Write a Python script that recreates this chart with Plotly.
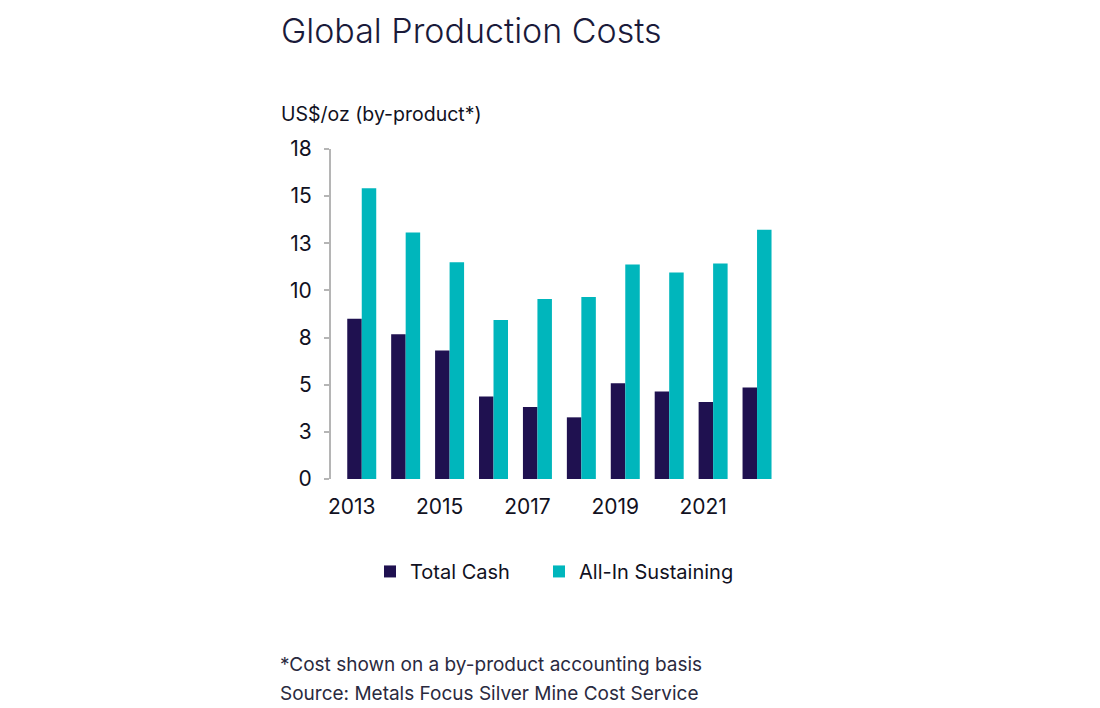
import plotly.graph_objects as go

years = ["2013", "2014", "2015", "2016", "2017", "2018", "2019", "2020", "2021", "2022"]
total_cash = [8.50, 7.67, 6.81, 4.38, 3.82, 3.27, 5.08, 4.64, 4.08, 4.85]
all_in_sustaining = [15.42, 13.07, 11.50, 8.43, 9.54, 9.65, 11.37, 10.95, 11.43, 13.22]
y_tickvals = [0, 2.5, 5, 7.5, 10, 12.5, 15, 17.5]
y_ticktext = ["0", "3", "5", "8", "10", "13", "15", "18"]
x_tickvals = ["2013", "2015", "2017", "2019", "2021"]

FONT = "Inter"
TXT = "#111122"
C_TC = "#1f1150"
C_AISC = "#00b6bc"

OFF = 8  # page body margin
W, H = 1100 - OFF, 708 - OFF
# plot area in screen pixels
SX0, SX1, SY0, SY1 = 331, 779, 149.3, 479.5
L, R = SX0 - OFF, (W + OFF) - SX1
T, B = SY0 - OFF, (H + OFF) - SY1
pw = SX1 - SX0
ph = SY1 - SY0


def px_x(x):
    return (x - SX0) / pw


def px_y(y):
    return (SY1 - y) / ph


fig = go.Figure()
fig.add_trace(go.Bar(x=years, y=total_cash, name="Total Cash", legend="legend",
                     marker=dict(color=C_TC, line=dict(width=0))))
fig.add_trace(go.Bar(x=years, y=all_in_sustaining, name="All-In Sustaining", legend="legend2",
                     marker=dict(color=C_AISC, line=dict(width=0))))

leg_common = dict(orientation="h", xanchor="left", yanchor="middle",
                  font=dict(size=20, color=TXT, family=FONT), itemclick=False,
                  bgcolor="rgba(0,0,0,0)")

fig.update_layout(
    width=W, height=H,
    margin=dict(l=L, r=R, t=T, b=B, pad=0),
    paper_bgcolor="white", plot_bgcolor="white",
    barmode="group", bargap=0.34, bargroupgap=0,
    font=dict(family=FONT, size=18, color=TXT),
    showlegend=True,
    legend=dict(x=px_x(370), y=px_y(572), **leg_common),
    legend2=dict(x=px_x(539), y=px_y(572), **leg_common),
    xaxis=dict(type="category", range=[-0.7, 9.5], tickmode="array", tickvals=x_tickvals,
               showline=False, showgrid=False, zeroline=False, ticks="",
               tickfont=dict(size=21, color=TXT), ticklabelshift=-10, ticklabelstandoff=13),
    yaxis=dict(range=[0, 17.5], tickmode="array", tickvals=y_tickvals, ticktext=y_ticktext,
               showline=True, linecolor="#b5b5b5", linewidth=2, showgrid=False, zeroline=False,
               ticks="outside", ticklen=5, tickcolor="#b5b5b5", tickwidth=2,
               tickfont=dict(size=21, color=TXT), ticklabelstandoff=8),
)

annotations = [
    dict(text="Global Production Costs", x=px_x(279), y=px_y(31), xanchor="left", yanchor="middle",
         font=dict(size=34, color="#1a1a3a", family=FONT, weight=300), showarrow=False),
    dict(text="US$/oz (by-product*)", x=px_x(279), y=px_y(114), xanchor="left", yanchor="middle",
         font=dict(size=19.5, color=TXT), showarrow=False),
    dict(text="*Cost shown on a by-product accounting basis", x=px_x(278), y=px_y(665), xanchor="left", yanchor="middle",
         font=dict(size=19, color="#2a2a40"), showarrow=False),
    dict(text="Source: Metals Focus Silver Mine Cost Service", x=px_x(278), y=px_y(694), xanchor="left", yanchor="middle",
         font=dict(size=19, color="#2a2a40"), showarrow=False),
]
for a in annotations:
    a.update(xref="paper", yref="paper")
fig.update_layout(annotations=annotations)

fig.write_html("out.html")
